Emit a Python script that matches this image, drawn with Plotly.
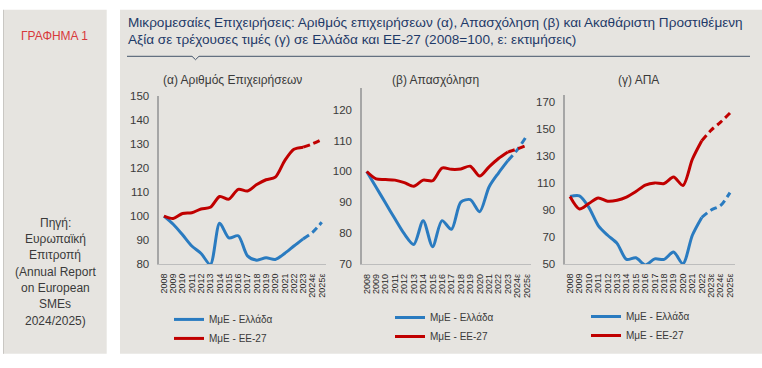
import plotly.graph_objects as go

# ---------------- data ----------------
years_ab = ["2008", "2009", "2010", "2011", "2012", "2013", "2014", "2015", "2016",
            "2017", "2018", "2019", "2020", "2021", "2022", "2023", "2024ε", "2025ε"]
years_c = ["2008", "2009", "2010", "2011", "2012", "2013", "2014", "2015", "2016",
           "2017", "2018", "2019", "2020", "2021", "2022", "2023ε", "2024ε", "2025ε"]

# (α) Αριθμός Επιχειρήσεων
firms_gr = [100, 96.6, 92.2, 87.5, 84.4, 79.8, 97.0, 90.9, 91.8, 83.4, 81.6, 82.6, 81.9, 84.4, 87.5, 90.5, 93.2, 97.4]
firms_eu = [100, 99.0, 101.1, 101.4, 103.0, 103.7, 108.2, 107.1, 111.2, 110.5, 113.2, 115.2, 116.3, 123.1, 127.9, 128.8, 130.2, 132.0]
# (β) Απασχόληση
emp_gr = [100, 94.9, 89.8, 84.7, 79.8, 76.4, 84.1, 75.7, 84.1, 81.3, 90.1, 90.9, 87.0, 95.0, 99.5, 103.5, 107.0, 111.5]
emp_eu = [100, 97.6, 97.4, 97.2, 96.4, 95.2, 97.2, 97.0, 101.1, 100.7, 100.8, 101.7, 98.5, 101.5, 104.2, 106.3, 107.3, 108.5]
# (γ) ΑΠΑ
gva_gr = [100, 100.5, 92.0, 78.5, 71.3, 65.3, 53.4, 54.6, 49.3, 53.8, 53.4, 58.9, 50.2, 71.3, 84.5, 90.0, 93.4, 102.9]
gva_eu = [100, 90.8, 94.8, 98.9, 96.5, 97.2, 99.6, 103.7, 108.4, 110.1, 109.6, 114.4, 108.2, 127.6, 141.3, 149.2, 155.1, 161.9]

series_names = ["ΜμΕ - Ελλάδα", "ΜμΕ - ΕΕ-27"]
panel_titles = ["(α) Αριθμός Επιχειρήσεων", "(β) Απασχόληση", "(γ) ΑΠΑ"]
y_ticks_a = [80, 90, 100, 110, 120, 130, 140, 150]
y_ticks_b = [70, 80, 90, 100, 110, 120]
y_ticks_c = [50, 70, 90, 110, 130, 150, 170]

title_lines = ["Μικρομεσαίες Επιχειρήσεις: Αριθμός επιχειρήσεων (α), Απασχόληση (β) και Ακαθάριστη Προστιθέμενη",
               "Αξία σε τρέχουσες τιμές (γ) σε Ελλάδα και ΕΕ-27 (2008=100, ε: εκτιμήσεις)"]
source_lines = ["Πηγή:", "Ευρωπαϊκή", "Επιτροπή", "(Annual Report", "on European", "SMEs", "2024/2025)"]

# ---------------- styling ----------------
W, H = 762, 368
BLUE = "#2A7BC0"
RED = "#C00000"
BG = "#E6E4E0"
TXT = "#3A3A3A"
FONT = "Liberation Sans, Arial, sans-serif"


def px(x):
    return x / W


def py(y):
    return 1 - y / H


panels = [
    dict(cats=years_ab, gr=firms_gr, eu=firms_eu, split=15, ticks=y_ticks_a, yr=[80, 150],
         xd=[159.3, 326.4], yd=[266.7, 93.5], title_x=232),
    dict(cats=years_ab, gr=emp_gr, eu=emp_eu, split=15, ticks=y_ticks_b, yr=[70, 126.9],
         xd=[362.0, 531.4], yd=[267.0, 85.0], title_x=435),
    dict(cats=years_c, gr=gva_gr, eu=gva_eu, split=14, ticks=y_ticks_c, yr=[50, 175],
         xd=[565.3, 734.7], yd=[266.7, 92.3], title_x=638),
]
legend_pos = [(169, 309), (390, 307), (586, 306)]

fig = go.Figure()
layout_axes = {}
annotations = []

for i, p in enumerate(panels):
    n = "" if i == 0 else str(i + 1)
    xa, ya = "x" + n, "y" + n
    leg = "legend" + n
    for vals, color, name in [(p["gr"], BLUE, series_names[0]), (p["eu"], RED, series_names[1])]:
        k = p["split"]
        fig.add_trace(go.Scatter(
            x=p["cats"][:k + 1], y=vals[:k + 1], mode="lines", name=name,
            line=dict(color=color, width=3, shape="spline", smoothing=0.8),
            xaxis=xa, yaxis=ya, legend=leg, showlegend=True, hoverinfo="skip"))
        fig.add_trace(go.Scatter(
            x=p["cats"][k:], y=vals[k:], mode="lines", name=name,
            line=dict(color=color, width=3, shape="spline", smoothing=0.8, dash="7px,4px"),
            xaxis=xa, yaxis=ya, legend=leg, showlegend=False, hoverinfo="skip"))

    layout_axes["xaxis" + n] = dict(
        domain=[px(p["xd"][0]), px(p["xd"][1])], anchor=ya, type="category",
        categoryorder="array", categoryarray=p["cats"], range=[-0.5, len(p["cats"]) - 0.5],
        tickmode="array", tickvals=p["cats"], ticktext=p["cats"],
        tickangle=-90, tickfont=dict(family=FONT, size=9, color="#2A2A2A"),
        showline=True, linecolor="#BDBDBD", linewidth=1, showgrid=False, zeroline=False,
        ticks="outside", ticklen=5, tickcolor="rgba(0,0,0,0)", fixedrange=True)
    layout_axes["yaxis" + n] = dict(
        domain=[py(p["yd"][0]), py(p["yd"][1])], anchor=xa, range=p["yr"],
        tickmode="array", tickvals=p["ticks"], tickfont=dict(family=FONT, size=11.5, color=TXT),
        showline=True, linecolor="#A6A6A6", linewidth=1.5, showgrid=False, zeroline=False,
        ticks="outside", ticklen=6, tickcolor="rgba(0,0,0,0)", fixedrange=True)
    layout_axes[leg] = dict(
        x=px(legend_pos[i][0]), y=py(legend_pos[i][1]), xanchor="left", yanchor="top",
        bgcolor="rgba(0,0,0,0)", font=dict(family=FONT, size=10, color=TXT),
        itemwidth=30, tracegroupgap=0, itemclick=False, itemdoubleclick=False)
    annotations.append(dict(
        text=panel_titles[i], x=px(p["title_x"]), y=py(76), xref="paper", yref="paper",
        xanchor="center", yanchor="middle", showarrow=False,
        font=dict(family=FONT, size=12, color=TXT)))

# header texts
annotations.append(dict(text="ΓΡΑΦΗΜΑ 1", x=px(54), y=py(31.5), xref="paper", yref="paper",
                        xanchor="center", yanchor="middle", showarrow=False,
                        font=dict(family=FONT, size=12, color="#D8393B")))
for j, t in enumerate(title_lines):
    annotations.append(dict(text=t, x=px(126), y=py(17 + 17.5 * j), xref="paper", yref="paper",
                            xanchor="left", yanchor="middle", showarrow=False,
                            font=dict(family=FONT, size=13.6, color="#1F3A68")))
for j, t in enumerate(source_lines):
    annotations.append(dict(text=t, x=px(55), y=py(224 + 16.9 * j), xref="paper", yref="paper",
                            xanchor="center", yanchor="middle", showarrow=False,
                            font=dict(family=FONT, size=12, color=TXT)))

shapes = [
    dict(type="rect", xref="paper", yref="paper", x0=px(3), x1=px(106.7), y0=py(359.5), y1=py(4),
         fillcolor=BG, line=dict(width=0), layer="below"),
    dict(type="line", xref="paper", yref="paper", x0=px(3.5), x1=px(3.5), y0=py(359.5), y1=py(4),
         line=dict(color="#C9C7C3", width=1), layer="below"),
    dict(type="rect", xref="paper", yref="paper", x0=px(120), x1=px(762), y0=py(359.5), y1=py(4),
         fillcolor=BG, line=dict(width=0), layer="below"),
    dict(type="path", xref="paper", yref="paper",
         path="M {a},{b} L {c},{b} L {d},{e} L {f},{b} L {g},{b}".format(
             a=px(127), b=py(52), c=px(192), d=px(195.5), e=py(55.5), f=px(199), g=px(750)),
         line=dict(color="#44546A", width=1)),
]

fig.update_layout(
    width=W, height=H, margin=dict(l=0, r=0, t=0, b=0),
    paper_bgcolor="white", plot_bgcolor="rgba(0,0,0,0)",
    showlegend=True, annotations=annotations, shapes=shapes,
    font=dict(family=FONT, color=TXT),
    **layout_axes)

fig.write_html("out.html", config=dict(displayModeBar=False),
               post_script="document.body.style.margin='0';document.body.style.overflow='hidden';")
